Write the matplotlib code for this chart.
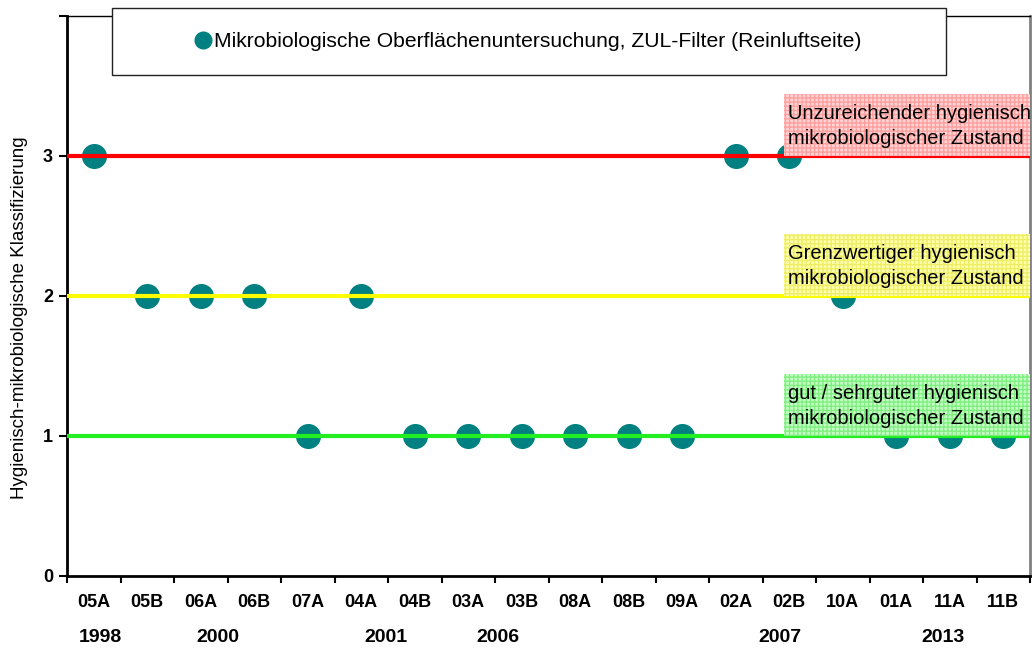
import matplotlib
matplotlib.use("Agg")
import matplotlib.pyplot as plt
from matplotlib.patches import Rectangle
from matplotlib.lines import Line2D

plt.rcParams["font.family"] = ["Liberation Sans", "DejaVu Sans"]

# data
samples = ["05A", "05B", "06A", "06B", "07A", "04A", "04B", "03A", "03B",
           "08A", "08B", "09A", "02A", "02B", "10A", "01A", "11A", "11B"]
classes = [3, 2, 2, 2, 1, 2, 1, 1, 1, 1, 1, 1, 3, 3, 2, 1, 1, 1]
years = ["1998", "2000", "2001", "2006", "2007", "2013"]
series_name = "Mikrobiologische Oberflächenuntersuchung, ZUL-Filter (Reinluftseite)"

levels = [3, 2, 1]
level_texts = [
    "Unzureichender hygienisch\nmikrobiologischer Zustand",
    "Grenzwertiger hygienisch\nmikrobiologischer Zustand",
    "gut / sehrguter hygienisch\nmikrobiologischer Zustand",
]

# layout / style
year_at = [0.13, 2.32, 5.46, 7.56, 12.83, 15.87]
level_colors = ["#ff0000", "#ffff00", "#22ee22"]
box_fill = ["#ffd4d4", "#ffffb0", "#c6ffc6"]
box_hatch = ["#ffa0a0", "#eeee66", "#80ee80"]
teal = "#008080"

W, H = 1032, 650
fig = plt.figure(figsize=(W / 100, H / 100), dpi=100)
ax = fig.add_axes([67 / W, 74 / H, 963 / W, 560 / H])

x = list(range(len(samples)))
ax.plot(x, classes, "o", color=teal, markersize=17, zorder=2)

for lvl, col, fc, hc, txt in zip(levels, level_colors, box_fill, box_hatch, level_texts):
    ax.axhline(lvl, color=col, lw=3, zorder=3)
    ax.add_patch(Rectangle((12.9, lvl), 4.6, 0.44, facecolor=fc, edgecolor=hc,
                           hatch="++++", lw=0, zorder=4))
    ax.text(12.98, lvl + 0.215, txt, fontsize=14.5, va="center", ha="left",
            linespacing=1.4, zorder=5)

ax.set_xlim(-0.5, len(samples) - 0.5)
ax.set_ylim(0, 4)
ax.set_xticks(x)
ax.set_xticklabels(samples, fontweight="bold", fontsize=13)
ax.set_xticks([i - 0.5 for i in range(len(samples) + 1)], minor=True)
ax.tick_params(axis="x", which="major", length=0, pad=13)
ax.tick_params(axis="x", which="minor", length=5, width=1.5, direction="out")
ax.set_yticks([0, 1, 2, 3, 4])
ax.set_yticklabels(["0", "1", "2", "3", ""], fontweight="bold", fontsize=13)
ax.tick_params(axis="y", length=6, width=1.5, pad=4)

for yr, pos in zip(years, year_at):
    ax.text(pos, -0.109, yr, transform=ax.get_xaxis_transform(), ha="center",
            va="center", fontsize=14, fontweight="bold")

ax.spines["left"].set_linewidth(2)
ax.spines["bottom"].set_linewidth(2)
ax.spines["top"].set_linewidth(1)
ax.spines["right"].set_color("#808080")
ax.spines["right"].set_linewidth(2)

fig.text(20 / W, 1 - 318 / H, "Hygienisch-mikrobiologische Klassifizierung",
         rotation=90, ha="center", va="center", fontsize=13.5)

# legend box
fig.add_artist(Rectangle((112 / W, 1 - 75 / H), 834 / W, 67 / H,
                         transform=fig.transFigure, facecolor="white",
                         edgecolor="#222222", lw=1, zorder=3))
handle = Line2D([], [], marker="o", color=teal, linestyle="None", markersize=12)
fig.legend(handles=[handle], labels=[series_name], loc="center",
           bbox_to_anchor=((112 + 946) / 2 / W, 1 - 41.5 / H),
           frameon=False, fontsize=15.2, handlelength=0.6, handletextpad=0.2)

fig.savefig("out.png", dpi=100)
